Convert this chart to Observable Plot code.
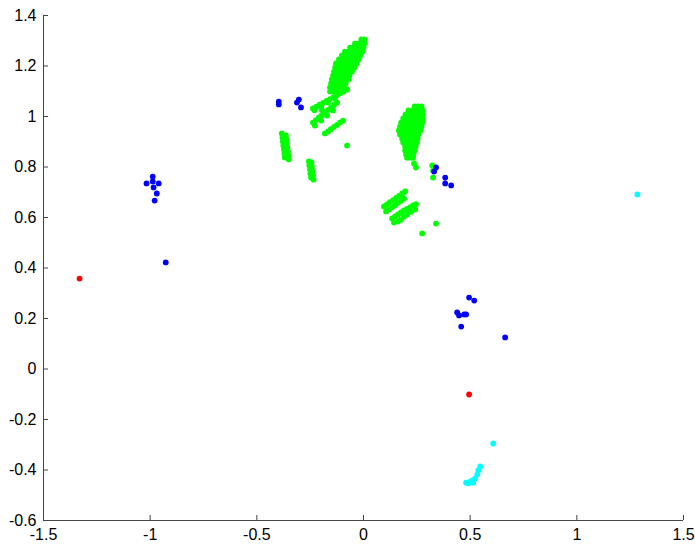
<!DOCTYPE html>
<html><head><meta charset="utf-8">
<script src="https://cdn.jsdelivr.net/npm/d3@7"></script>
<script src="https://cdn.jsdelivr.net/npm/@observablehq/plot@0.6"></script>
<style>
body{margin:0;background:#fff;}
#chart{width:695px;height:547px;}
</style>
</head><body><div id="chart"></div>
<script>
// axis domains and tick labels
const xDomain = [-1.5, 1.5];
const yDomain = [-0.6, 1.4];
const xTicks = [-1.5, -1, -0.5, 0, 0.5, 1, 1.5];
const yTicks = [-0.6, -0.4, -0.2, 0, 0.2, 0.4, 0.6, 0.8, 1, 1.2, 1.4];

// green: large leaf-shaped cluster (rows: [y, xs])
const greenMainRows = [
  [1.305, [-0.010, 0.004]],
  [1.289, [-0.040, -0.024, -0.008, 0.005]],
  [1.273, [-0.063, -0.047, -0.031, -0.015, 0.000]],
  [1.257, [-0.087, -0.070, -0.053, -0.036, -0.019, -0.004]],
  [1.242, [-0.101, -0.084, -0.067, -0.050, -0.033, -0.016]],
  [1.226, [-0.115, -0.098, -0.081, -0.064, -0.047, -0.030, -0.024]],
  [1.210, [-0.129, -0.112, -0.095, -0.078, -0.061, -0.044, -0.034]],
  [1.194, [-0.133, -0.116, -0.099, -0.082, -0.065, -0.048, -0.043]],
  [1.178, [-0.138, -0.121, -0.104, -0.087, -0.070, -0.054]],
  [1.162, [-0.143, -0.126, -0.109, -0.092, -0.075, -0.066]],
  [1.147, [-0.148, -0.131, -0.114, -0.097, -0.080, -0.071]],
  [1.131, [-0.152, -0.135, -0.118, -0.101, -0.084]],
  [1.115, [-0.157, -0.140, -0.123, -0.106, -0.092]],
  [1.099, [-0.157, -0.140, -0.125]]
];
// green: right cluster (rows: [y, xs])
const greenRightRows = [
  [1.040, [0.240, 0.256, 0.272]],
  [1.024, [0.211, 0.228, 0.245, 0.262, 0.277]],
  [1.008, [0.197, 0.214, 0.231, 0.248, 0.265, 0.278]],
  [0.992, [0.186, 0.203, 0.220, 0.237, 0.254, 0.271, 0.278]],
  [0.976, [0.176, 0.193, 0.210, 0.227, 0.244, 0.261, 0.277]],
  [0.960, [0.171, 0.188, 0.205, 0.222, 0.239, 0.256, 0.272]],
  [0.945, [0.166, 0.183, 0.200, 0.217, 0.234, 0.251, 0.267]],
  [0.929, [0.171, 0.188, 0.205, 0.222, 0.239, 0.256]],
  [0.913, [0.181, 0.198, 0.215, 0.232, 0.249, 0.254]],
  [0.897, [0.186, 0.203, 0.220, 0.237, 0.250]],
  [0.881, [0.195, 0.212, 0.229, 0.244]],
  [0.865, [0.195, 0.212, 0.229, 0.240]],
  [0.849, [0.200, 0.217, 0.234]],
  [0.837, [0.204, 0.220, 0.232]]
];
// green: streaks, strips and single points ([x, y])
const greenStreaks = [
  [-0.237, 1.032], [-0.221, 1.039], [-0.205, 1.047], [-0.189, 1.054], [-0.173, 1.062], [-0.157, 1.069],
  [-0.141, 1.077], [-0.125, 1.084], [-0.109, 1.092], [-0.093, 1.099], [-0.077, 1.107],
  [-0.230, 1.025], [-0.198, 1.040], [-0.166, 1.055], [-0.134, 1.070],
  [-0.237, 0.976], [-0.223, 0.986], [-0.209, 0.996], [-0.195, 1.006], [-0.181, 1.016], [-0.166, 1.026],
  [-0.152, 1.036], [-0.138, 1.046], [-0.124, 1.055],
  [-0.228, 0.964], [-0.199, 0.984], [-0.171, 1.004], [-0.143, 1.024], [-0.196, 1.028],
  [-0.181, 0.933], [-0.166, 0.941], [-0.153, 0.950], [-0.138, 0.959], [-0.124, 0.967], [-0.110, 0.976], [-0.096, 0.984],
  [-0.077, 0.885]
];
const greenStrips = [
  [-0.383, 0.933], [-0.380, 0.917], [-0.378, 0.901], [-0.376, 0.885], [-0.373, 0.869], [-0.371, 0.853], [-0.369, 0.838],
  [-0.364, 0.925], [-0.362, 0.909], [-0.359, 0.893], [-0.357, 0.877], [-0.354, 0.861], [-0.352, 0.845], [-0.350, 0.830],
  [-0.256, 0.822], [-0.254, 0.806], [-0.251, 0.790], [-0.249, 0.774], [-0.246, 0.758],
  [-0.244, 0.818], [-0.242, 0.800], [-0.239, 0.783], [-0.237, 0.766], [-0.234, 0.750]
];
const greenLower = [
  [0.237, 0.814], [0.246, 0.798], [0.322, 0.806], [0.326, 0.786], [0.326, 0.758],
  [0.096, 0.644], [0.110, 0.652], [0.124, 0.661], [0.139, 0.669], [0.153, 0.678], [0.167, 0.686], [0.181, 0.695], [0.195, 0.703],
  [0.106, 0.624], [0.120, 0.632], [0.134, 0.641], [0.148, 0.649], [0.162, 0.658], [0.176, 0.666], [0.190, 0.675],
  [0.134, 0.596], [0.148, 0.604], [0.162, 0.612], [0.176, 0.620], [0.190, 0.628], [0.204, 0.634], [0.218, 0.640], [0.232, 0.648], [0.246, 0.653],
  [0.143, 0.580], [0.162, 0.584], [0.176, 0.592], [0.190, 0.604], [0.204, 0.612], [0.223, 0.622], [0.242, 0.632],
  [0.340, 0.576], [0.275, 0.537]
];

// blue points ([x, y])
const bluePoints = [
  [-0.988, 0.762], [-1.017, 0.735], [-0.988, 0.743], [-0.960, 0.735], [-0.984, 0.719], [-0.969, 0.695], [-0.979, 0.667],
  [-0.927, 0.422],
  [-0.397, 1.059], [-0.397, 1.048], [-0.303, 1.067], [-0.312, 1.055], [-0.293, 1.036],
  [0.340, 0.798], [0.331, 0.782], [0.383, 0.758], [0.383, 0.735], [0.411, 0.727],
  [0.495, 0.283], [0.519, 0.271], [0.439, 0.224], [0.448, 0.212], [0.472, 0.216], [0.481, 0.216], [0.458, 0.168],
  [0.664, 0.125]
];
// cyan points ([x, y])
const cyanPoints = [
  [1.284, 0.691], [0.608, -0.295],
  [0.547, -0.386], [0.538, -0.402], [0.533, -0.418], [0.523, -0.434], [0.509, -0.442],
  [0.500, -0.446], [0.491, -0.453], [0.481, -0.450], [0.514, -0.450]
];
// red points ([x, y])
const redPoints = [[-1.331, 0.358], [0.495, -0.101]];

const rowsToPoints = rows => rows.flatMap(([y, xs]) => xs.map(x => [x, y]));
const greenPoints = [
  ...rowsToPoints(greenMainRows),
  ...rowsToPoints(greenRightRows),
  ...greenStreaks, ...greenStrips, ...greenLower
];

const R = 2.9;
const dot = (data, fill) => Plot.dot(data, {x: d => d[0], y: d => d[1], r: R, fill, stroke: "none"});
const fmt = d => String(d);

const chart = Plot.plot({
  width: 695,
  height: 547,
  marginLeft: 43,
  marginRight: 12,
  marginTop: 15,
  marginBottom: 27,
  style: {fontFamily: "'Liberation Sans', Arial, Helvetica, sans-serif", fontSize: "16px", background: "#fff", color: "#000"},
  x: {domain: xDomain, label: null},
  y: {domain: yDomain, label: null},
  marks: [
    dot(greenPoints, "#00ff00"),
    dot(bluePoints, "#0000ff"),
    dot(cyanPoints, "#00ffff"),
    dot(redPoints, "#ff0000"),
    Plot.ruleX([xDomain[0]], {stroke: "#444"}),
    Plot.ruleY([yDomain[0]], {stroke: "#444"}),
    Plot.axisX(xTicks, {tickSize: -5, tickPadding: 13, tickFormat: fmt, stroke: "#444", fill: "#000", label: null}),
    Plot.axisY(yTicks, {tickSize: -5, tickPadding: 12, tickFormat: fmt, stroke: "#444", fill: "#000", label: null})
  ]
});
document.getElementById("chart").appendChild(chart);
</script>
</body></html>
